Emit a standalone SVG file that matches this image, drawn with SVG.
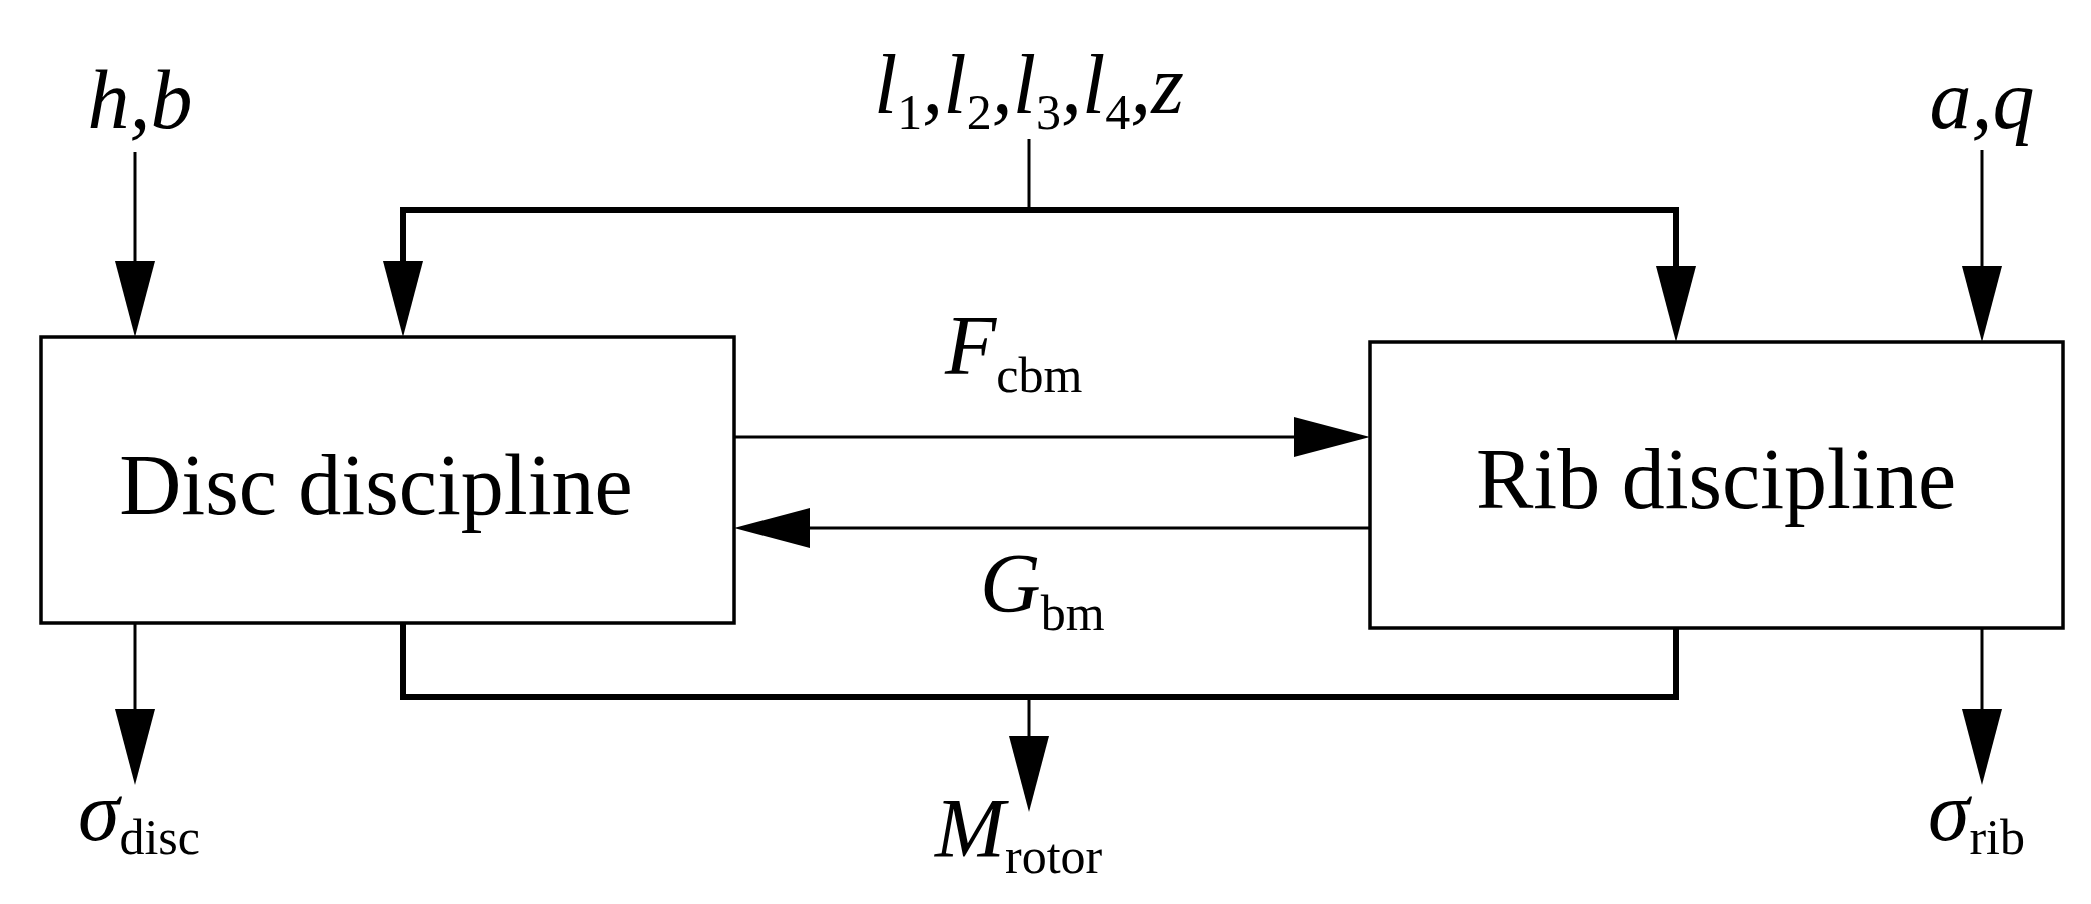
<svg xmlns="http://www.w3.org/2000/svg" width="2091" height="904" viewBox="0 0 2091 904">
<style>
.t{font-family:"Liberation Serif",serif;fill:#000}
.i{font-style:italic;font-size:84px}
.s{font-size:50px;font-style:normal}
.n{font-size:86px}
.l{stroke:#000;stroke-width:3;fill:none}
.b{stroke:#000;stroke-width:6;fill:none}
.box{stroke:#000;stroke-width:3.5;fill:#fff}
</style>
<defs>
<polygon id="ad" points="-20,-76 20,-76 0,0" fill="#000"/>
</defs>
<rect width="2091" height="904" fill="#fff"/>
<g id="connectors">
<line class="l" x1="135" y1="152" x2="135" y2="300"/><use href="#ad" x="135" y="337"/>
<line class="l" x1="1029" y1="139" x2="1029" y2="210"/>
<polyline class="b" points="403,300 403,210 1676,210 1676,300"/>
<use href="#ad" x="403" y="337"/><use href="#ad" x="1676" y="342"/>
<line class="l" x1="1982" y1="150" x2="1982" y2="300"/><use href="#ad" x="1982" y="342"/>
<line class="l" x1="734" y1="437" x2="1320" y2="437"/><polygon points="1370,437 1294,417 1294,457" fill="#000"/>
<line class="l" x1="1370" y1="528" x2="784" y2="528"/><polygon points="734,528 810,508 810,548" fill="#000"/>
<polyline class="b" points="403,623 403,697 1676,697 1676,628"/>
<line class="l" x1="1029" y1="697" x2="1029" y2="760"/><use href="#ad" x="1029" y="812"/>
<line class="l" x1="135" y1="623" x2="135" y2="760"/><use href="#ad" x="135" y="785"/>
<line class="l" x1="1982" y1="628" x2="1982" y2="760"/><use href="#ad" x="1982" y="785"/>
</g>
<g id="disc"><rect class="box" x="41" y="337" width="693" height="286"/>
<text class="t n" x="376" y="514" text-anchor="middle">Disc discipline</text></g>
<g id="rib"><rect class="box" x="1370" y="342" width="693" height="286"/>
<text class="t n" x="1716" y="508" text-anchor="middle">Rib discipline</text></g>
<g id="labels">
<text class="t i" x="140" y="128" text-anchor="middle">h,b</text>
<text class="t i" x="1029" y="113" text-anchor="middle">l<tspan class="s" dy="16">1</tspan><tspan dy="-16">,l</tspan><tspan class="s" dy="16">2</tspan><tspan dy="-16">,l</tspan><tspan class="s" dy="16">3</tspan><tspan dy="-16">,l</tspan><tspan class="s" dy="16">4</tspan><tspan dy="-16">,z</tspan></text>
<text class="t i" x="1982" y="128" text-anchor="middle">a,q</text>
<text class="t i" x="945" y="374">F<tspan class="s" dy="18">cbm</tspan></text>
<text class="t i" x="980" y="612">G<tspan class="s" dy="18">bm</tspan></text>
<text class="t i" x="78" y="840">σ<tspan class="s" dy="14">disc</tspan></text>
<text class="t i" x="935" y="857">M<tspan class="s" dy="16">rotor</tspan></text>
<text class="t i" x="1928" y="840">σ<tspan class="s" dy="14">rib</tspan></text>
</g>
</svg>
